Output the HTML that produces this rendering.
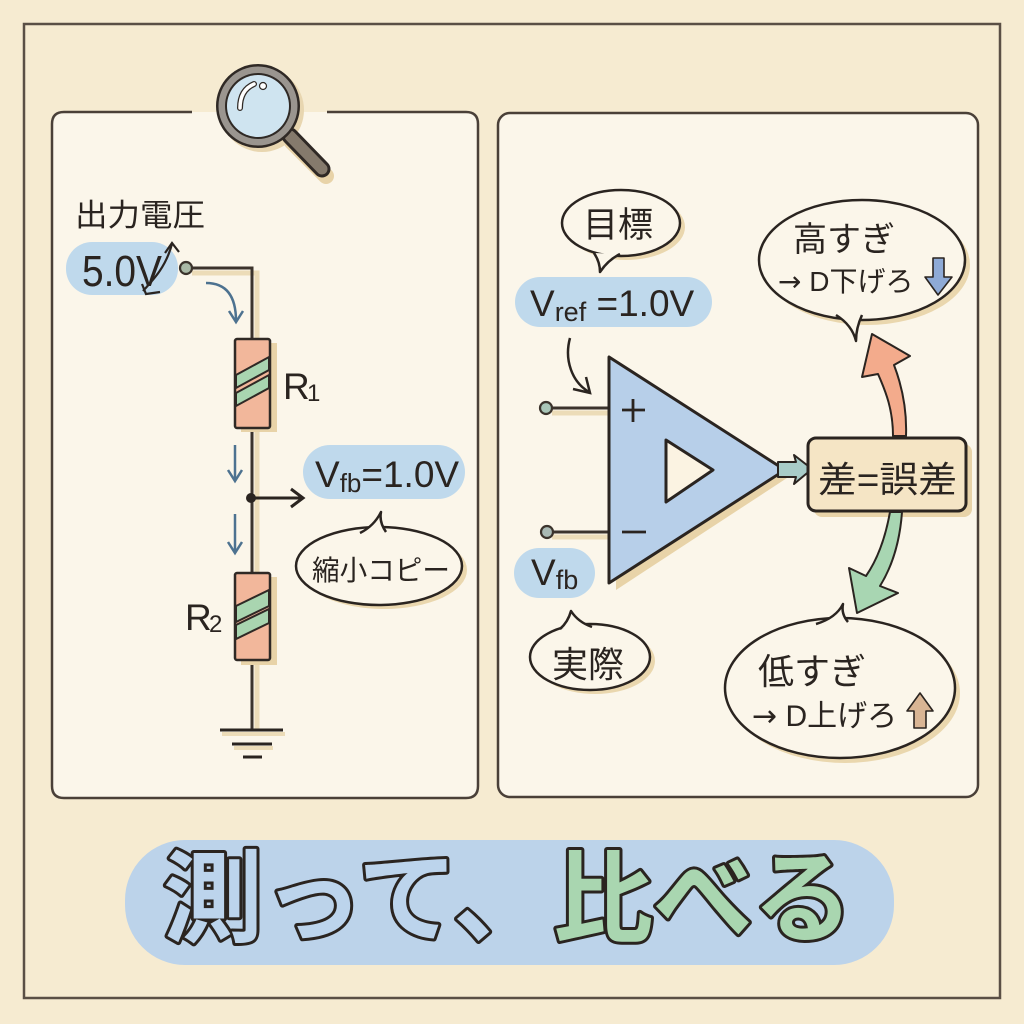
<!DOCTYPE html>
<html><head><meta charset="utf-8"><style>
html,body{margin:0;padding:0;background:#f6ebd1;}
svg{display:block;}
text{font-family:"Liberation Sans","Noto Sans CJK JP",sans-serif;fill:#2a2420;}
.ar{font-family:"DejaVu Sans","Noto Sans CJK JP",sans-serif;}
</style></head><body>
<svg width="1024" height="1024" viewBox="0 0 1024 1024" xmlns="http://www.w3.org/2000/svg">
<rect width="1024" height="1024" fill="#f6ebd1"/>
<!-- outer frame -->
<rect x="24" y="24" width="976" height="974" fill="none" stroke="#5a4f45" stroke-width="2.5"/>

<!-- left panel -->
<rect x="52" y="112" width="426" height="686" rx="12" fill="#fbf6ea"/>
<path d="M192,112 L64,112 Q52,112 52,124 L52,786 Q52,798 64,798 L466,798 Q478,798 478,786 L478,124 Q478,112 466,112 L327,112" fill="none" stroke="#4a4038" stroke-width="2.5"/>

<!-- right panel -->
<rect x="498" y="113" width="480" height="684" rx="12" fill="#fbf6ea" stroke="#4a4038" stroke-width="2.5"/>

<!-- magnifier -->
<line x1="292" y1="142" x2="326" y2="176" stroke="#e8d3a8" stroke-width="16" stroke-linecap="round"/>
<circle cx="262" cy="110" r="42" fill="#e8d6b0"/>
<line x1="290" y1="136" x2="322" y2="169" stroke="#2f2925" stroke-width="17" stroke-linecap="round"/>
<line x1="290" y1="136" x2="322" y2="169" stroke="#857a6c" stroke-width="11" stroke-linecap="round"/>
<circle cx="258" cy="106" r="42" fill="#2f2925"/>
<circle cx="258" cy="106" r="39.5" fill="#9a958f"/>
<circle cx="258" cy="106" r="33" fill="#2f2925"/>
<circle cx="258" cy="106" r="31" fill="#cfe4f0"/>
<path d="M240,108 Q240,90 254,84" fill="none" stroke="#2f2925" stroke-width="6" stroke-linecap="round"/>
<path d="M240,108 Q240,90 254,84" fill="none" stroke="#ffffff" stroke-width="3.5" stroke-linecap="round"/>
<circle cx="263" cy="86" r="3.5" fill="#fff" stroke="#2f2925" stroke-width="1.2"/>

<!-- LEFT CIRCUIT -->
<text x="75" y="226" font-size="31" textLength="130" lengthAdjust="spacingAndGlyphs">出力電圧</text>

<rect x="66" y="242" width="112" height="53" rx="26" fill="#bfd9ec"/>
<text x="82" y="286" font-size="44" textLength="80" lengthAdjust="spacingAndGlyphs">5.0V</text>
<path d="M143,291 C155,278 166,266 172,244" fill="none" stroke="#2a2420" stroke-width="2.2"/>
<path d="M165,253 L172,243 L179,252" fill="none" stroke="#2a2420" stroke-width="2.2"/>
<path d="M142,284 L146,294 L160,292" fill="none" stroke="#2a2420" stroke-width="2.2"/>

<!-- wire shadows -->
<path d="M192,273 L257,273 L257,338" fill="none" stroke="#ecdcb8" stroke-width="5"/>
<line x1="257" y1="428" x2="257" y2="573" stroke="#ecdcb8" stroke-width="5"/>
<line x1="257" y1="660" x2="257" y2="729" stroke="#ecdcb8" stroke-width="5"/>
<!-- wires -->
<path d="M192,268 L252,268 L252,340" fill="none" stroke="#3b332c" stroke-width="3"/>
<line x1="252" y1="427" x2="252" y2="574" stroke="#3b332c" stroke-width="3"/>
<line x1="252" y1="659" x2="252" y2="731" stroke="#3b332c" stroke-width="3"/>
<circle cx="186" cy="268" r="6" fill="#a9b9a6" stroke="#3b332c" stroke-width="2.2"/>

<!-- blue flow arrows -->
<path d="M206,283 Q236,283 236,321" fill="none" stroke="#4d7290" stroke-width="2.5"/>
<path d="M229,311 L236,322 L243,311" fill="none" stroke="#4d7290" stroke-width="2.5"/>
<line x1="235" y1="445" x2="235" y2="481" stroke="#4d7290" stroke-width="2.5"/>
<path d="M228,470 L235,481 L242,470" fill="none" stroke="#4d7290" stroke-width="2.5"/>
<line x1="235" y1="514" x2="235" y2="553" stroke="#4d7290" stroke-width="2.5"/>
<path d="M228,542 L235,553 L242,542" fill="none" stroke="#4d7290" stroke-width="2.5"/>

<!-- R1 -->
<rect x="241" y="343" width="36" height="89" fill="#e8d3a8"/>
<rect x="235" y="339" width="35" height="89" rx="2" fill="#f2b79b" stroke="#2f2925" stroke-width="2.5"/>
<polygon points="236,375 269,357 269,370 236,388" fill="#a9d5b0" stroke="#2f2925" stroke-width="2"/>
<polygon points="236,393 269,375 269,388 236,406" fill="#a9d5b0" stroke="#2f2925" stroke-width="2"/>
<text x="283" y="399" font-size="37">R</text>
<text x="307" y="401" font-size="24">1</text>

<!-- node and Vfb -->
<circle cx="251" cy="498" r="5" fill="#2a2420"/>
<line x1="251" y1="498" x2="302" y2="498" stroke="#2a2420" stroke-width="3"/>
<path d="M291,489 L303,498 L291,507" fill="none" stroke="#2a2420" stroke-width="3"/>
<rect x="303" y="445" width="162" height="54" rx="27" fill="#bfd9ec"/>
<text x="315" y="487" font-size="37">V<tspan font-size="26" dy="5">fb</tspan><tspan dy="-5">=1.0V</tspan></text>

<!-- 縮小コピー bubble -->
<ellipse cx="384" cy="570" rx="83" ry="39" fill="#ead7ae"/>
<ellipse cx="379" cy="566" rx="83" ry="39" fill="#fbf6ea" stroke="#2a2420" stroke-width="2.5"/>
<path d="M360,533 Q374,526 381,512 Q379,522 386,532" fill="#fbf6ea" stroke="#2a2420" stroke-width="2.5" stroke-linejoin="round"/>
<text x="312" y="580" font-size="28" textLength="138" lengthAdjust="spacingAndGlyphs">縮小コピー</text>

<!-- R2 -->
<rect x="241" y="577" width="36" height="88" fill="#e8d3a8"/>
<rect x="235" y="573" width="35" height="87" rx="2" fill="#f2b79b" stroke="#2f2925" stroke-width="2.5"/>
<polygon points="236,606 269,590 269,606 236,622" fill="#a9d5b0" stroke="#2f2925" stroke-width="2"/>
<polygon points="236,625 269,609 269,623 236,639" fill="#a9d5b0" stroke="#2f2925" stroke-width="2"/>
<text x="185" y="630" font-size="37">R</text>
<text x="209" y="632" font-size="24">2</text>

<!-- ground -->
<line x1="222" y1="734" x2="285" y2="734" stroke="#ecdcb8" stroke-width="4"/>
<line x1="234" y1="748" x2="273" y2="748" stroke="#ecdcb8" stroke-width="4"/>
<line x1="220" y1="730" x2="283" y2="730" stroke="#2a2420" stroke-width="3"/>
<line x1="232" y1="744" x2="272" y2="744" stroke="#2a2420" stroke-width="3"/>
<line x1="243" y1="757" x2="262" y2="757" stroke="#2a2420" stroke-width="3"/>

<!-- RIGHT PANEL -->
<!-- 目標 bubble -->
<ellipse cx="626" cy="227" rx="59" ry="33" fill="#ead7ae"/>
<ellipse cx="621" cy="223" rx="59" ry="33" fill="#fbf6ea" stroke="#2a2420" stroke-width="2.5"/>
<path d="M594,253 Q600,262 600,272 Q608,260 620,254" fill="#fbf6ea" stroke="#2a2420" stroke-width="2.5" stroke-linejoin="round"/>
<text x="583" y="237" font-size="35">目標</text>

<rect x="515" y="277" width="197" height="50" rx="25" fill="#bfd9ec"/>
<text x="530" y="316" font-size="37">V<tspan font-size="27" dy="5">ref</tspan><tspan dy="-5"> =1.0V</tspan></text>

<!-- curved arrow to + -->
<path d="M570,338 C564,360 572,382 589,392" fill="none" stroke="#2a2420" stroke-width="2.5"/>
<path d="M573,389 L590,393 L586,377" fill="none" stroke="#2a2420" stroke-width="2.5"/>

<!-- input wires -->
<line x1="552" y1="413" x2="609" y2="413" stroke="#ecdcb8" stroke-width="5"/>
<line x1="552" y1="537" x2="609" y2="537" stroke="#ecdcb8" stroke-width="5"/>
<line x1="552" y1="408" x2="610" y2="408" stroke="#3b332c" stroke-width="3"/>
<line x1="553" y1="532" x2="610" y2="532" stroke="#3b332c" stroke-width="3"/>
<circle cx="546" cy="408" r="6" fill="#a9c6b8" stroke="#3b332c" stroke-width="2.2"/>
<circle cx="547" cy="532" r="6" fill="#a9b9b4" stroke="#3b332c" stroke-width="2.2"/>

<!-- op amp -->
<polygon points="616,364 616,590 790,476" fill="#e8d3a8"/>
<polygon points="609,357 609,583 785,470" fill="#b7cfe9" stroke="#2a2420" stroke-width="3" stroke-linejoin="round"/>
<polygon points="666,440 713,470 666,502" fill="#fbf3e2" stroke="#2a2420" stroke-width="3" stroke-linejoin="round"/>
<line x1="622" y1="410" x2="645" y2="410" stroke="#2a2420" stroke-width="2.8"/>
<line x1="633" y1="399" x2="633" y2="422" stroke="#2a2420" stroke-width="2.8"/>
<line x1="622" y1="532" x2="646" y2="532" stroke="#2a2420" stroke-width="2.8"/>

<!-- Vfb right -->
<rect x="514" y="548" width="81" height="50" rx="25" fill="#bfd9ec"/>
<text x="531" y="585" font-size="37">V<tspan font-size="27" dy="4">fb</tspan></text>

<!-- 実際 bubble -->
<ellipse cx="595" cy="661" rx="60" ry="33" fill="#ead7ae"/>
<ellipse cx="590" cy="657" rx="60" ry="33" fill="#fbf6ea" stroke="#2a2420" stroke-width="2.5"/>
<path d="M560,629 Q568,622 571,611 Q578,622 592,627" fill="#fbf6ea" stroke="#2a2420" stroke-width="2.5" stroke-linejoin="round"/>
<text x="552" y="677" font-size="36">実際</text>

<!-- output arrow -->
<polygon points="778,462 796,462 794,455 812,469 794,484 796,477 778,477" fill="#a8ccc8" stroke="#2a2420" stroke-width="2" stroke-linejoin="round"/>

<!-- error box -->
<rect x="814" y="444" width="158" height="73" rx="8" fill="#e8d3a8"/>
<rect x="808" y="438" width="158" height="73" rx="8" fill="#f5e5c5" stroke="#2a2420" stroke-width="3"/>
<text x="818" y="492" font-size="36" textLength="139" lengthAdjust="spacingAndGlyphs">差=誤差</text>

<!-- salmon arrow up -->
<path d="M893,436 C893,410 886,392 878,374 L862,377 L872,334 L910,356 L894,365 C902,386 907,410 906,436 Z" fill="#f3ab8c" stroke="#2a2420" stroke-width="2" stroke-linejoin="round"/>

<!-- green arrow down -->
<path d="M890,512 C885,540 877,560 866,576 L849,568 L857,613 L898,593 L880,586 C893,565 900,540 902,512 Z" fill="#a8d6b2" stroke="#2a2420" stroke-width="2" stroke-linejoin="round"/>

<!-- 高すぎ bubble -->
<ellipse cx="867" cy="265" rx="103" ry="60" fill="#ead7ae"/>
<ellipse cx="862" cy="260" rx="103" ry="60" fill="#fbf6ea" stroke="#2a2420" stroke-width="2.5"/>
<path d="M836,315 Q852,325 856,341 Q856,328 862,315" fill="#fbf6ea" stroke="#2a2420" stroke-width="2.5" stroke-linejoin="round"/>
<text x="793" y="251" font-size="34">高すぎ</text>
<text x="778" y="291" font-size="28"><tspan class="ar">→</tspan> D下げろ</text>
<polygon points="933,258 944,258 944,277 952,277 938,295 925,277 933,277" fill="#8eaad6" stroke="#2a2420" stroke-width="1.6" stroke-linejoin="round"/>

<!-- 低すぎ bubble -->
<ellipse cx="845" cy="693" rx="115" ry="70" fill="#ead7ae"/>
<ellipse cx="840" cy="688" rx="115" ry="70" fill="#fbf6ea" stroke="#2a2420" stroke-width="2.5"/>
<path d="M816,624 Q836,618 843,604 Q841,614 848,622" fill="#fbf6ea" stroke="#2a2420" stroke-width="2.5" stroke-linejoin="round"/>
<text x="758" y="684" font-size="36">低すぎ</text>
<text x="752" y="726" font-size="30"><tspan class="ar">→</tspan> D上げろ</text>
<polygon points="914,728 926,728 926,711 933,711 920,693 907,711 914,711" fill="#d9b594" stroke="#2a2420" stroke-width="1.6" stroke-linejoin="round"/>

<!-- BANNER -->
<rect x="125" y="840" width="769" height="125" rx="60" fill="#bcd3ea"/>
<text x="163" y="934" font-size="100" font-weight="bold" stroke="#2a2420" stroke-width="6" stroke-linejoin="round" paint-order="stroke" style="fill:#bcd4ec;font-family:'Noto Sans CJK JP',sans-serif;">測って、<tspan style="fill:#a9d6b0">比べる</tspan></text>
</svg>
</body></html>
